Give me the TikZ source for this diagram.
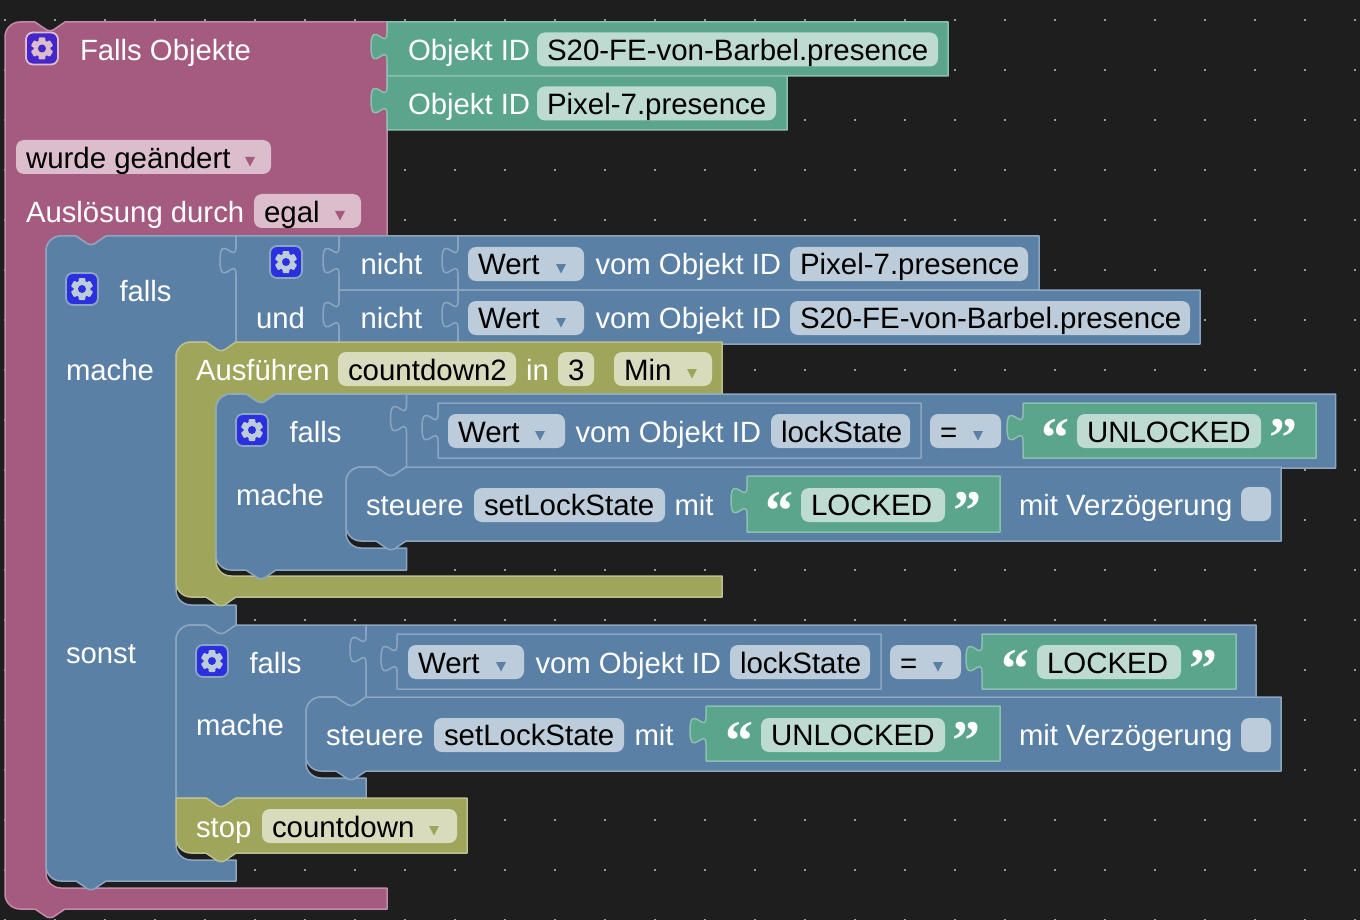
\documentclass[tikz,border=0pt]{standalone}
\usepackage{fontspec}
\setmainfont{Liberation Sans}
\newfontfamily\quotefont{Liberation Serif}[BoldFont={Liberation Serif Bold}]
\definecolor{bgc}{HTML}{1E1E1E}
\definecolor{dotc}{HTML}{9A9A9A}
\definecolor{pinkf}{HTML}{A55B80}\definecolor{pinks}{HTML}{C08CA6}\definecolor{pinkl}{HTML}{DBBDCC}
\definecolor{bluef}{HTML}{5B80A5}\definecolor{blues}{HTML}{8CA6C0}\definecolor{bluel}{HTML}{BDCCDB}
\definecolor{greenf}{HTML}{5BA58C}\definecolor{greens}{HTML}{8CC0AE}\definecolor{greenl}{HTML}{BDDBD1}
\definecolor{olivef}{HTML}{9FA55B}\definecolor{olives}{HTML}{BCC08C}\definecolor{olivel}{HTML}{D9DBBD}
\definecolor{gearpink}{HTML}{4426CC}\definecolor{gearblue}{HTML}{2A30E0}
\newcounter{nc}
% path fragments (picture coordinates: y runs downward, in pixels)
\newcommand\notchR[2]{-- (#1,#2) -- (#1+11,#2+7.5) .. controls (#1+13,#2+9) and (#1+17,#2+9) .. (#1+19,#2+7.5) -- (#1+30,#2)}
\newcommand\notchL[2]{-- (#1+30,#2) -- (#1+19,#2+7.5) .. controls (#1+17,#2+9) and (#1+13,#2+9) .. (#1+11,#2+7.5) -- (#1,#2)}
\newcommand\tabUp[2]{-- (#1,#2+38.5) .. controls (#1,#2+20) and (#1-16,#2+53.3) .. (#1-16,#2+24.6) .. controls (#1-16,#2-4.1) and (#1,#2+29.2) .. (#1,#2+10.75) -- (#1,#2)}
\newcommand\cTL[2]{(#1,#2+15) .. controls (#1,#2+6.7) and (#1+6.7,#2) .. (#1+15,#2)}
\newcommand\cBL[2]{-- (#1+15,#2) .. controls (#1+6.7,#2) and (#1,#2-6.7) .. (#1,#2-15)}
\newcommand\cavT[2]{\notchL{#1+30}{#2} -- (#1+15,#2) .. controls (#1+6.7,#2) and (#1,#2+6.7) .. (#1,#2+15)}
\newcommand\cavB[2]{-- (#1,#2-15) .. controls (#1,#2-6.7) and (#1+6.7,#2) .. (#1+15,#2)}
% value block with tab: x1 y1 x2 y2
\newcommand\valblock[5]{\draw[#1] (#2,#3) -- (#4,#3) -- (#4,#5) -- (#2,#5) \tabUp{#2}{#3} -- cycle;}
% statement block with rounded corners and notches
\newcommand\stmt[5]{\draw[#1] \cTL{#2}{#3} \notchR{#2+30}{#3} -- (#4,#3) -- (#4,#5) \notchL{#2+30}{#5} \cBL{#2}{#5} -- cycle;}
% field: x1 x2 ycentre text baseline-tweak colour
\newcommand\fieldb[6]{\fill[#6,rounded corners=8] (#1,#3-17) rectangle (#2,#3+17);
  \stepcounter{nc}\node[txt,text=black,font=\fontsize{29.45}{30}\selectfont] (n\arabic{nc}) at (#1+10,#3+11#5) {#4};}
\newcommand\tri[3]{\fill[#3] (#1-5,#2) -- (#1+5,#2) -- (#1,#2+9.5) -- cycle;}
\newcommand\wt[3]{\stepcounter{nc}\node[txt] (n\arabic{nc}) at (#1,#2) {#3};}
\newcommand\gearicon[5]{%
  \draw[draw=#4,fill=#3,line width=1.8,rounded corners=7] (#1-16,#2-16) rectangle (#1+16,#2+16);
  \foreach \a in {0,60,...,300}{\fill[#5,rotate around={\a:(#1,#2)},rounded corners=1] (#1-3.4,#2-11) rectangle (#1+3.4,#2-6);}
  \fill[#5] (#1,#2) circle (8.5);
  \fill[#3] (#1,#2) circle (4);}
\newcommand\quotes[3]{%
  \stepcounter{nc}\node[qt] (n\arabic{nc}) at (#1,#3) {“};\stepcounter{nc}\node[qt] (n\arabic{nc}) at (#2,#3) {”};}
\tikzset{
  txt/.style={anchor=base west,inner sep=0,outer sep=0,text=white,font=\fontsize{29.3}{30}\selectfont},
  qt/.style={anchor=base,inner sep=0,outer sep=0,text=white,font=\quotefont\bfseries\fontsize{56}{56}\selectfont},
  pinkb/.style={draw=pinks,fill=pinkf,line width=1.5},
  blueb/.style={draw=blues,fill=bluef,line width=1.5},
  greenb/.style={draw=greens,fill=greenf,line width=1.5},
  oliveb/.style={draw=olives,fill=olivef,line width=1.5},
}
\begin{document}
\begin{tikzpicture}[x=1pt,y=-1pt,line join=round]
\useasboundingbox (0,0) rectangle (1360,920);
\fill[bgc] (0,0) rectangle (1360,920);
\foreach \i in {0,...,27}{\foreach \j in {0,...,18}{
  \fill[dotc] (5+50*\i-1,20+50*\j-1) rectangle (5+50*\i+1,20+50*\j+1);}}
% ---- pink hat block
\draw[pinkb] \cTL{5}{22} \notchR{35}{22} -- (387,22) -- (387,236) \cavT{46}{236} \cavB{46}{888} -- (387,888) -- (387,909) \notchL{35}{909} \cBL{5}{909} -- cycle;
\valblock{greenb}{387}{22}{948}{76}
\valblock{greenb}{387}{76}{787}{130}
% ---- main "falls"
\draw[blueb] \cTL{46}{236} \notchR{76}{236} -- (236,236) -- (236,342) \cavT{176}{342} \cavB{176}{605} -- (236,605) -- (236,625) \cavT{176}{625} \cavB{176}{860} -- (236,860) -- (236,881) \notchL{76}{881} \cBL{46}{881} -- cycle;
\valblock{blueb}{236}{236}{339}{344}
\valblock{blueb}{339}{236}{458}{290}
\valblock{blueb}{339}{290}{458}{344}
\valblock{blueb}{458}{236}{1039}{290}
\valblock{blueb}{458}{290}{1200}{344}
% ---- olive "Ausfuehren"
\draw[oliveb] \cTL{176}{342} \notchR{206}{342} -- (722,342) -- (722,394) \cavT{216}{394} \cavB{216}{576} -- (722,576) -- (722,597) \notchL{206}{597} \cBL{176}{597} -- cycle;
% ---- inner "falls" 1
\draw[blueb] \cTL{216}{394} \notchR{246}{394} -- (406.5,394) -- (406.5,467) \cavT{346}{467} \cavB{346}{548} -- (406.5,548) -- (406.5,570) \notchL{246}{570} \cBL{216}{570} -- cycle;
\valblock{blueb}{406.5}{394}{1335.5}{468}
\valblock{blueb}{438}{403}{921}{458}
\valblock{greenb}{1023}{403}{1316}{458}
\stmt{blueb}{346}{467}{1281}{541}
\valblock{greenb}{747}{476}{1000}{532}
% ---- inner "falls" 2
\draw[blueb] \cTL{176}{625} \notchR{206}{625} -- (366,625) -- (366,697) \cavT{306}{697} \cavB{306}{778} -- (366,778) -- (366,798) \notchL{206}{798} -- (176,798) -- cycle;
\valblock{blueb}{366}{625}{1256}{698}
\valblock{blueb}{397}{634}{881}{689}
\valblock{greenb}{982}{634}{1236}{689}
\stmt{blueb}{306}{697}{1281}{771}
\valblock{greenb}{706}{706}{1000}{761}
% ---- stop
\draw[oliveb] (176,798) \notchR{206}{798} -- (467,798) -- (467,853) \notchL{206}{853} \cBL{176}{853} -- cycle;
% ---- icons
\gearicon{42}{48.5}{gearpink}{pinkl}{pinkl}
\gearicon{82}{289}{gearblue}{blues}{bluel}
\gearicon{286}{262}{gearblue}{blues}{bluel}
\gearicon{252}{430}{gearblue}{blues}{bluel}
\gearicon{212}{661}{gearblue}{blues}{bluel}
% ---- labels
\wt{80}{61}{Falls Objekte}
\wt{408}{61}{Objekt ID}
\fieldb{537}{938}{49.5}{S20-FE-von-Barbel.presence}{}{greenl}
\wt{408}{115}{Objekt ID}
\fieldb{537}{776}{103.5}{Pixel-7.presence}{}{greenl}
\fieldb{16}{271}{157}{wurde geändert}{+1}{pinkl}\tri{250}{157}{pinkf}
\wt{26}{223}{Auslösung durch}
\fieldb{254}{361}{211}{egal}{+1}{pinkl}\tri{340}{211}{pinkf}
\wt{119.5}{301}{falls}
\wt{66}{380}{mache}
\wt{66}{663}{sonst}
\wt{256}{328}{und}
\wt{360.5}{274}{nicht}
\wt{360.5}{328}{nicht}
\fieldb{468}{584}{264}{Wert}{-1}{bluel}\tri{561}{264}{bluef}
\wt{595.5}{274}{vom Objekt ID}
\fieldb{790}{1028}{264}{Pixel-7.presence}{-1}{bluel}
\fieldb{468}{584}{318}{Wert}{-1}{bluel}\tri{561}{318}{bluef}
\wt{595.5}{328}{vom Objekt ID}
\fieldb{790}{1190}{318}{S20-FE-von-Barbel.presence}{-1}{bluel}
\wt{196}{380}{Ausführen}
\fieldb{338}{516}{369}{countdown2}{}{olivel}
\wt{526}{380}{in}
\fieldb{558}{594}{369}{3}{}{olivel}
\fieldb{614}{712}{369}{Min}{}{olivel}\tri{692}{369}{olivef}
\wt{289.5}{442}{falls}
\wt{236}{505}{mache}
\fieldb{448}{565}{431}{Wert}{}{bluel}\tri{540}{431}{bluef}
\wt{575.5}{442}{vom Objekt ID}
\fieldb{771}{910}{431}{lockState}{}{bluel}
\fieldb{930}{1001}{431}{=}{}{bluel}\tri{978}{431}{bluef}
\fieldb{1077}{1261}{431}{UNLOCKED}{}{greenl}
\quotes{1055}{1283}{456}
\wt{366}{515}{steuere}
\fieldb{474}{665}{505}{setLockState}{-1}{bluel}
\wt{674.5}{515}{mit}
\fieldb{801}{945}{505}{LOCKED}{-1}{greenl}
\quotes{779}{967}{529}
\wt{1019}{515}{mit Verzögerung}
\fill[bluel,rounded corners=8] (1241,487) rectangle (1271,521);
\wt{249.5}{673}{falls}
\wt{196}{735}{mache}
\fieldb{408}{524}{662}{Wert}{}{bluel}\tri{501}{662}{bluef}
\wt{535.5}{673}{vom Objekt ID}
\fieldb{730}{870}{662}{lockState}{}{bluel}
\fieldb{890}{961}{662}{=}{}{bluel}\tri{938}{662}{bluef}
\fieldb{1037}{1181}{662}{LOCKED}{}{greenl}
\quotes{1015}{1203}{687}
\wt{326}{745}{steuere}
\fieldb{434}{624}{735}{setLockState}{-1}{bluel}
\wt{634.5}{745}{mit}
\fieldb{761}{945}{735}{UNLOCKED}{-1}{greenl}
\quotes{739}{966}{759}
\wt{1019}{745}{mit Verzögerung}
\fill[bluel,rounded corners=8] (1241,718) rectangle (1271,752);
\wt{196}{837}{stop}
\fieldb{262}{457}{826}{countdown}{}{olivel}\tri{434}{826}{olivef}
\end{tikzpicture}
\end{document}
